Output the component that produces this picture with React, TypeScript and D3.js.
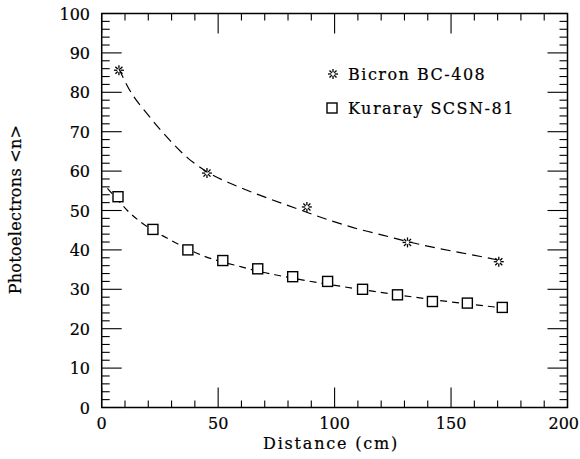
import React from "react";
import * as d3 from "d3";

const W = 580;
const H = 459;

// Bicron BC-408 data
const bicronX = [7.4, 45.2, 88.1, 131.3, 170.5];
const bicronY = [85.6, 59.5, 50.9, 41.9, 37.0];
// Bicron fit curve
const bicronFitX = [7.4, 11.3, 20.7, 29.3, 37, 45.2, 56.4, 71, 85, 99, 112, 121, 131.5, 142, 154, 165.5, 171];
const bicronFitY = [86.0, 81.3, 73.7, 67.8, 63.3, 59.8, 56.6, 53.2, 50.2, 47.3, 45.0, 43.7, 42.1, 40.7, 39.3, 38.0, 37.3];

// Kuraray SCSN-81 data
const kurarayX = [7, 22, 37, 52, 67, 82, 97, 112, 127, 142, 157, 172];
const kurarayY = [53.5, 45.2, 40.0, 37.3, 35.2, 33.2, 32.0, 30.0, 28.6, 26.9, 26.5, 25.4];
// Kuraray fit curve
const kurarayFitX = [2.5, 7, 11, 15.6, 22, 28, 37, 44, 52, 60, 67, 74.4, 82, 97, 112, 127, 142, 157, 172];
const kurarayFitY = [55.6, 52.6, 50.0, 47.6, 45.0, 43.0, 40.2, 38.4, 36.9, 35.7, 34.6, 33.7, 32.8, 31.3, 29.9, 28.6, 27.4, 26.3, 25.3];

const xMajor = [0, 50, 100, 150, 200];
const yMajor = [0, 10, 20, 30, 40, 50, 60, 70, 80, 90, 100];
const xMinor = d3.range(0, 201, 10);
const yMinor = d3.range(0, 101, 2);

const legendNames = ["Bicron BC-408", "Kuraray SCSN-81"];

const FONT = "'DejaVu Serif', serif";
const TXT = { fontFamily: FONT, fill: "#000", stroke: "#000", strokeWidth: 0.2 };

function Star({ cx, cy }: { cx: number; cy: number }) {
  const rays = d3.range(8).map((i) => (i * Math.PI) / 4);
  return (
    <g>
      {rays.map((a, i) => (
        <line
          key={i}
          x1={cx + Math.cos(a) * 1.7}
          y1={cy + Math.sin(a) * 1.7}
          x2={cx + Math.cos(a) * 5}
          y2={cy + Math.sin(a) * 5}
          stroke="#000"
          strokeWidth={1.3}
        />
      ))}
    </g>
  );
}

function Square({ cx, cy }: { cx: number; cy: number }) {
  return <rect x={cx - 5} y={cy - 5} width={10} height={10} fill="#fff" stroke="#000" strokeWidth={1.4} />;
}

export default function App() {
  const left = 101.7;
  const right = 567.5;
  const top = 13.5;
  const bottom = 407.5;
  const x = d3.scaleLinear().domain([0, 200]).range([left, right]);
  const y = d3.scaleLinear().domain([0, 100]).range([bottom, top]);

  const line = d3
    .line<[number, number]>()
    .x((d) => x(d[0]))
    .y((d) => y(d[1]))
    .curve(d3.curveMonotoneX);

  const bicronFit = line(bicronFitX.map((v, i) => [v, bicronFitY[i]] as [number, number])) || "";
  const kurarayFit = line(kurarayFitX.map((v, i) => [v, kurarayFitY[i]] as [number, number])) || "";

  return (
    <svg width={W} height={H} style={{ position: "absolute", left: 0, top: 0, background: "#fff" }}>
      <rect x={0} y={0} width={W} height={H} fill="#fff" />
      {/* frame */}
      <rect x={left} y={top} width={right - left} height={bottom - top} fill="none" stroke="#000" strokeWidth={1.5} />
      {/* ticks */}
      {xMinor.map((v) => {
        const major = xMajor.includes(v);
        const len = major ? 20 : 7;
        return (
          <g key={"xt" + v}>
            <line x1={x(v)} x2={x(v)} y1={bottom} y2={bottom - len} stroke="#000" strokeWidth={1.1} />
            <line x1={x(v)} x2={x(v)} y1={top} y2={top + len} stroke="#000" strokeWidth={1.1} />
          </g>
        );
      })}
      {yMinor.map((v) => {
        const major = yMajor.includes(v);
        const len = major ? 20 : 8;
        return (
          <g key={"yt" + v}>
            <line x1={left} x2={left + len} y1={y(v)} y2={y(v)} stroke="#000" strokeWidth={1.1} />
            <line x1={right} x2={right - len} y1={y(v)} y2={y(v)} stroke="#000" strokeWidth={1.1} />
          </g>
        );
      })}
      {/* tick labels */}
      {xMajor.map((v, i) => (
        <text
          key={"xl" + v}
          x={i === xMajor.length - 1 ? 579 : x(v)}
          y={429}
          textAnchor={i === xMajor.length - 1 ? "end" : "middle"}
          fontSize={16}
          {...TXT}
        >
          {v}
        </text>
      ))}
      {yMajor.map((v) => (
        <text key={"yl" + v} x={90} y={y(v) + 6} textAnchor="end" fontSize={16} {...TXT}>
          {v}
        </text>
      ))}
      {/* axis titles */}
      <text x={331} y={449} textAnchor="middle" fontSize={16} letterSpacing={1.8} {...TXT}>
        Distance (cm)
      </text>
      <text
        transform={`translate(21, 209.5) rotate(-90)`}
        textAnchor="middle"
        fontSize={16}
        letterSpacing={0.3}
        {...TXT}
      >
        Photoelectrons &lt;n&gt;
      </text>
      {/* fit curves */}
      <path d={bicronFit} fill="none" stroke="#000" strokeWidth={1.2} strokeDasharray="10 6" />
      <path d={kurarayFit} fill="none" stroke="#000" strokeWidth={1.2} strokeDasharray="7 5" />
      {/* markers */}
      {kurarayX.map((v, i) => (
        <Square key={"k" + i} cx={x(v)} cy={y(kurarayY[i])} />
      ))}
      {bicronX.map((v, i) => (
        <Star key={"b" + i} cx={x(v)} cy={y(bicronY[i])} />
      ))}
      {/* legend */}
      <Star cx={333} cy={74} />
      <text x={348} y={80} fontSize={16} letterSpacing={1.5} {...TXT}>
        {legendNames[0]}
      </text>
      <Square cx={332} cy={108} />
      <text x={348} y={114} fontSize={16} letterSpacing={1.5} {...TXT}>
        {legendNames[1]}
      </text>
    </svg>
  );
}
